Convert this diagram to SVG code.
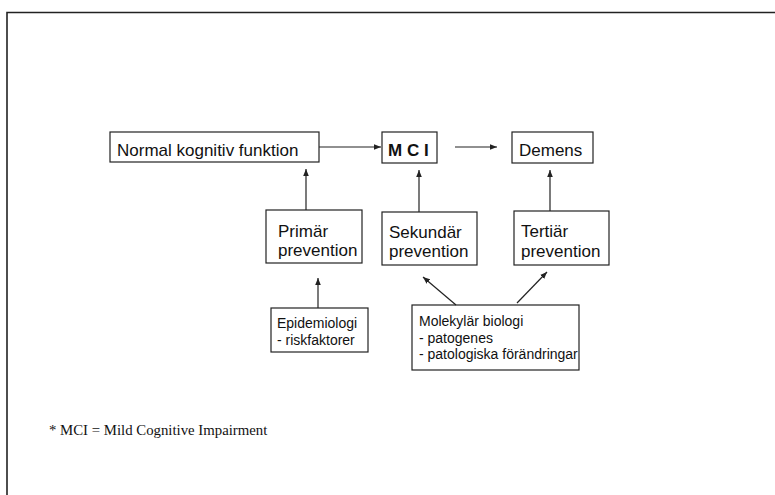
<svg xmlns="http://www.w3.org/2000/svg" width="775" height="495" viewBox="0 0 775 495">
<style>
.box{fill:#fff;stroke:#222;stroke-width:1.2}
.t{font-family:"Liberation Sans",Arial,sans-serif;fill:#111}
.big{font-size:17px}
.small{font-size:14px}
.con{stroke:#222;stroke-width:1.2;fill:none;marker-end:url(#ah)}
.frame{stroke:#222;stroke-width:1.6;fill:none}
</style>
<defs>
<marker id="ah" viewBox="0 0 10 10" refX="10" refY="5" markerWidth="7" markerHeight="7" markerUnits="userSpaceOnUse" orient="auto">
<path d="M0,1 L10,5 L0,9 Z" fill="#222"/>
</marker>
</defs>
<rect width="775" height="495" fill="#fff"/>
<path class="frame" d="M7,495 L7,12.5 L775,12.5"/>
<g id="normal"><rect class="box" x="110" y="132" width="209" height="30"/><text class="t big" x="117" y="156">Normal kognitiv funktion</text></g>
<g id="mci"><rect class="box" x="382" y="132" width="55" height="31"/><text class="t big" x="388" y="156" font-weight="bold">M C I</text></g>
<g id="demens"><rect class="box" x="512" y="132" width="81" height="31"/><text class="t big" x="519" y="156">Demens</text></g>
<g id="primar"><rect class="box" x="266" y="210" width="96" height="53"/><text class="t big" x="278" y="237">Primär</text><text class="t big" x="278" y="256">prevention</text></g>
<g id="sekundar"><rect class="box" x="382" y="212" width="95" height="53"/><text class="t big" x="389" y="238">Sekundär</text><text class="t big" x="389" y="257">prevention</text></g>
<g id="tertiar"><rect class="box" x="514" y="211" width="95" height="54"/><text class="t big" x="521" y="237">Tertiär</text><text class="t big" x="521" y="257">prevention</text></g>
<g id="epidemiologi"><rect class="box" x="271" y="308" width="97" height="44"/><text class="t small" x="277" y="328">Epidemiologi</text><text class="t small" x="277" y="345">- riskfaktorer</text></g>
<g id="molekylar"><rect class="box" x="412" y="305" width="167" height="65"/><text class="t small" x="419" y="326">Molekylär biologi</text><text class="t small" x="419" y="343">- patogenes</text><text class="t small" x="419" y="359">- patologiska förändringar</text></g>
<g id="connectors">
<line class="con" x1="319" y1="147" x2="381" y2="147"/>
<line class="con" x1="455" y1="147" x2="497" y2="147"/>
<line class="con" x1="306" y1="210" x2="306" y2="169"/>
<line class="con" x1="419" y1="212" x2="419" y2="170"/>
<line class="con" x1="550" y1="211" x2="550" y2="170"/>
<line class="con" x1="318" y1="308" x2="318" y2="278"/>
<line class="con" x1="456" y1="305" x2="423" y2="277"/>
<line class="con" x1="517" y1="303" x2="547" y2="272"/>
</g>
<text x="49" y="435" font-family="'Liberation Serif','Times New Roman',serif" font-size="14.8" fill="#111">* MCI = Mild Cognitive Impairment</text>
</svg>
